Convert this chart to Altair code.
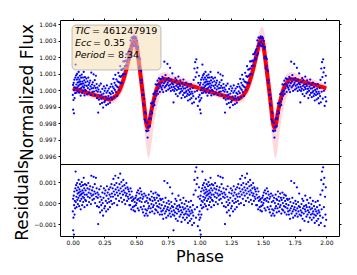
import altair as alt
import pandas as pd

# ---------------- folded light curve (one cycle, shown twice) ----------------
# phase in 1/1000, flux offset from 1 in 1e-5, residual in 1e-5
PHASE_MILLI = [
    1, 3, 4, 6, 8, 10, 11, 13, 15, 17, 19,
    21, 23, 25, 27, 29, 31, 33, 35, 37, 39, 41, 43, 45, 47, 49, 51, 53, 55, 57, 59,
    61, 63, 65, 67, 69, 71, 73, 75, 77, 79, 81, 83, 85, 87, 89, 91, 93, 95, 97, 99,
    102, 105, 108, 111, 114, 117, 120, 123, 126, 129, 132, 135, 138, 141, 144, 147,
    150, 153, 156, 159, 162, 165, 168, 171, 174, 177, 180, 183, 186, 189, 192, 195, 198,
    201, 204, 207, 210, 213, 216, 219, 222, 225, 228, 231, 234, 237, 240, 243, 246, 249,
    252, 255, 258, 261, 264, 267, 270, 273, 276, 279, 282, 285, 288, 291, 294, 297, 300,
    303, 306, 309, 312, 315, 318, 321, 324, 327, 330, 333, 336, 339, 342, 345, 348,
    351, 354, 357, 360, 363, 366, 369, 372, 375, 378, 381, 384, 387, 390, 393, 396,
    399, 402, 405, 408, 411, 414, 417, 420, 423, 426, 429, 432, 435, 438, 441, 444, 447,
    450, 453, 456, 459, 462, 465, 468, 471, 474, 477, 480, 483, 486, 489, 492, 495, 498,
    501, 504, 507, 510, 513, 516, 519, 522, 525, 528, 531, 534, 537, 540, 543, 546, 549,
    552, 555, 558, 561, 564, 567, 570, 573, 576, 579, 582, 585, 588, 591, 594, 597, 600,
    603, 606, 609, 612, 615, 618, 621, 624, 627, 630, 633, 636, 639, 642, 645, 648, 651,
    654, 657, 660, 663, 666, 669, 672, 675, 678, 681, 684, 687, 690, 693, 696, 699,
    702, 705, 708, 711, 714, 717, 720, 723, 726, 729, 732, 735, 738, 741, 744, 747, 750,
    753, 756, 759, 762, 765, 768, 771, 774, 777, 780, 783, 786, 789, 792, 795, 798,
    801, 804, 807, 810, 813, 816, 819, 822, 825, 828, 831, 834, 837, 840, 843, 846, 849,
    852, 855, 858, 861, 864, 867, 870, 873, 876, 879, 882, 885, 888, 891, 894, 897,
    900, 903, 906, 909, 912, 915, 918, 921, 924, 927, 930, 933, 936, 939, 942, 945, 948,
    951, 954, 957, 960, 963, 966, 969, 972, 975, 978, 981, 984, 987, 990, 993, 996, 999,
]
FLUX_E5 = [
    -28, 32, -118, -59, 45, -140, 0, 64, -47, 18, -18,
    77, 156, 11, 90, 35, -15, 65, 99, 18, 47, -3, 76, 26, 111, 50, -15, 64, 34, 88, 8,
    53, -33, 37, 76, 15, 95, 39, -16, 53, 23, 77, -3, 41, 111, 16, 60, -31, 29, 79, 3,
    48, -3, 71, 26, -25, 54, 13, 77, 32, -14, 45, 4, 59, 23, -28, 107,
    11, 35, -10, 48, 13, 97, -8, 27, 61, -30, 14, 88, -2, 38, -48, 16, -9,
    -135, 4, -57, 28, -33, -84, -10, 40, -52, -27, -77, 8, -44, -105, -20, 24, -72,
    -3, -64, 12, -39, -90, -15, 29, -52, -3, -84, -35, 10, -51, -16, -75, 21, -23,
    -43, 38, -6, -55, 22, -17, 69, 11, -42, 45, 2, 94, 31, -11, 66, 23,
    -34, 54, 18, 106, 49, 3, 86, 46, 146, 81, 42, 125, 87, 45, 128, 97,
    175, 133, 97, 175, 147, 98, 179, 150, 218, 175, 148, 221, 186, 231, 196, 242, 189,
    250, 211, 302, 267, 223, 319, 285, 319, 276, 317, 270, 327, 294, 316, 267, 324, 280,
    315, 265, 300, 250, 193, 262, 205, 134, 198, 147, 189, 124, 60, 115, 45, 61, -28,
    2, -82, -27, -92, -51, -176, -131, -185, -140, -244, -196, -249, -197, -287, -222, -244, -175,
    -216, -168, -219, -146, -172, -79, -126, -80, -139, -78, -98, -23, -68, -24, -90, -16, -52,
    36, -6, -32, 33, -2, 58, -22, 38, 12, 72, 36, -10, 68, 25, 68, 15,
    47, 4, 81, 28, -11, 71, 43, 173, 17, 52, 92, 26, -4, 66, 35, 160, 45,
    4, 73, 28, 57, 12, 136, 35, -5, 64, 19, 43, 102, 2, 36, -74, 20,
    -5, 49, 9, 73, -23, 27, 61, 1, 35, -36, 19, 83, 8, 37, -19, 26, 60,
    -10, 9, -47, 43, -3, 22, -29, 65, 10, -16, 34, -42, 12, -13, 46, -5,
    -35, 19, -22, -62, 2, 36, -29, -10, -56, 9, -22, 37, -48, -9, -80, -20, 14,
    -36, 63, -73, 132, -9, 170, 80, -51, 188, 108, -3, 136, -95, 45, -41, 88, -68,
]
RESID_E5 = [
    -40, 20, -130, -70, 35, -150, -10, 55, -55, 10, -25,
    70, 150, 5, 85, 30, -20, 60, 95, 15, 45, -5, 75, 25, 110, 50, -15, 65, 35, 90, 10,
    55, -30, 40, 80, 20, 100, 45, -10, 60, 30, 85, 5, 50, 120, 25, 70, -20, 40, 90, 15,
    60, 10, 85, 40, -10, 70, 30, 95, 50, 5, 65, 25, 80, 45, -5, 130,
    35, 60, 15, 75, 40, 125, 20, 55, 90, 0, 45, 120, 30, 70, -15, 50, 25,
    -100, 40, -20, 65, 5, -45, 30, 80, -10, 15, -35, 50, 0, -60, 25, 70, -25,
    45, -15, 60, 10, -40, 35, 80, 0, 50, -30, 20, 65, 5, 40, -20, 75, 30,
    10, 90, 45, -5, 70, 30, 115, 55, 0, 85, 40, 130, 65, 20, 95, 50,
    -10, 75, 35, 120, 60, 10, 90, 45, 140, 70, 25, 100, 55, 5, 80, 40,
    110, 60, 15, 85, 50, -5, 70, 35, 95, 45, 10, 75, 30, 65, 20, 55, -10,
    40, -10, 70, 25, -30, 55, 10, 30, -20, 15, -35, 20, -15, 5, -40, 25, -10,
    35, 0, 50, 15, -25, 60, 20, -35, 45, 10, 70, 25, -20, 55, 5, 40, -30,
    20, -45, 30, -15, 45, -60, 5, -30, 35, -50, 10, -35, 25, -60, 0, -25, 40,
    -15, 20, -45, 15, -25, 55, -5, 30, -40, 10, -20, 45, -10, 25, -50, 15, -30,
    50, 0, -35, 25, -15, 40, -45, 10, -20, 35, -5, -55, 20, -25, 15, -40,
    -10, -55, 20, -35, -75, 5, -25, 105, -50, -15, 25, -40, -70, 0, -30, 95, -20,
    -60, 10, -35, -5, -50, 75, -25, -65, 5, -40, -15, 45, -55, -20, -130, -35,
    -60, -5, -45, 20, -75, -25, 10, -50, -15, -85, -30, 35, -40, -10, -65, -20, 15,
    -55, -35, -90, 0, -45, -20, -70, 25, -30, -55, -5, -80, -25, -50, 10, -40,
    -70, -15, -55, -95, -30, 5, -60, -40, -85, -20, -50, 10, -75, -35, -105, -45, -10,
    -60, 40, -95, 110, -30, 150, 60, -70, 170, 90, -20, 120, -110, 30, -55, 75, -80,
]

# ---------------- best-fit model and spread of posterior models ----------------
MODEL_PHASE = [0.00, 0.05, 0.10, 0.15, 0.20, 0.25, 0.29, 0.31, 0.33, 0.35, 0.37, 0.39,
               0.41, 0.43, 0.45, 0.47, 0.48, 0.49, 0.50, 0.52, 0.54, 0.56, 0.58, 0.59,
               0.60, 0.62, 0.64, 0.66, 0.68, 0.70, 0.72, 0.75, 0.80, 0.85, 0.90, 0.95, 1.00]
MODEL_E5 = [12, 0, -12, -24, -35, -47, -56, -51, -40, -25, 0, 40,
            90, 150, 215, 280, 302, 312, 290, 180, 60, -70, -200, -228,
            -215, -125, -55, 3, 35, 56, 68, 65, 55, 45, 35, 24, 12]
BAND_LO_E5 = [-8, -21, -33, -46, -58, -71, -84, -80, -72, -60, -40, -10,
              30, 85, 145, 210, 235, 240, 215, 85, -60, -200, -340, -395,
              -410, -330, -210, -120, -60, -22, -5, 5, 5, 0, -5, -10, -8]
BAND_HI_E5 = [33, 21, 9, -2, -12, -24, -32, -20, -5, 15, 45, 95,
              150, 215, 285, 350, 372, 385, 380, 310, 200, 80, -70, -120,
              -140, -80, 0, 58, 92, 106, 110, 105, 90, 77, 65, 50, 33]

FLUX_TICKS = [0.996, 0.997, 0.998, 0.999, 1.000, 1.001, 1.002, 1.003, 1.004]
RESID_TICKS = [-0.001, 0.0, 0.001]
PHASE_TICKS = [0.0, 0.25, 0.5, 0.75, 1.0, 1.25, 1.5, 1.75, 2.0]

INFO_NAMES = ["TIC", "Ecc", "Period"]
INFO_VALUES = ["= 461247919", "= 0.35", "= 8.34"]

FONT = "DejaVu Sans"

rows = []
for cyc in (0, 1):
    for p, f, r in zip(PHASE_MILLI, FLUX_E5, RESID_E5):
        rows.append({"phase": p / 1000 + cyc, "flux": 1 + f * 1e-5, "resid": r * 1e-5})
pts = pd.DataFrame(rows)

mrows = []
for cyc in (0, 1):
    for p, m, lo, hi in zip(MODEL_PHASE, MODEL_E5, BAND_LO_E5, BAND_HI_E5):
        mrows.append({"phase": p + cyc, "model": 1 + m * 1e-5,
                      "lo": 1 + lo * 1e-5, "hi": 1 + hi * 1e-5, "cycle": cyc})
model = pd.DataFrame(mrows)

xscale = alt.Scale(domain=[-0.1, 2.1], nice=False, zero=False)
ytop = alt.Scale(domain=[0.99553, 1.00426], nice=False, zero=False)
ybot = alt.Scale(domain=[-0.00157, 0.00186], nice=False, zero=False)

top_axis = alt.Axis(values=FLUX_TICKS, format=".3f", title="Normalized Flux",
                    titlePadding=2, labelOverlap=False)
x_none = alt.X("phase:Q", scale=xscale, axis=None)

band = alt.Chart(model).mark_area(color="red", opacity=0.15, interpolate="monotone").encode(
    x=x_none,
    y=alt.Y("lo:Q", scale=ytop, axis=top_axis),
    y2="hi:Q",
    detail="cycle:N",
)
line = alt.Chart(model).mark_line(color="red", strokeWidth=4, interpolate="monotone").encode(
    x=x_none, y=alt.Y("model:Q", scale=ytop, axis=None), detail="cycle:N"
)
dots_top = alt.Chart(pts).mark_circle(color="blue", size=5, opacity=1).encode(
    x=x_none, y=alt.Y("flux:Q", scale=ytop, axis=None)
)
# invisible layer that only carries the tick marks on the top and right frame edges
frame_top = alt.Chart(pts).mark_circle(opacity=0).encode(
    x=alt.X("phase:Q", scale=xscale,
            axis=alt.Axis(orient="top", values=PHASE_TICKS, labels=False, title=None)),
    y=alt.Y("flux:Q", scale=ytop,
            axis=alt.Axis(orient="right", values=FLUX_TICKS, labels=False, title=None)),
)
box = alt.Chart(pd.DataFrame({"k": [0]})).mark_rect(
    fill="#f5deb3", fillOpacity=0.55, stroke="black", strokeOpacity=0.3,
    strokeWidth=0.8, cornerRadius=4
).encode(x=alt.value(12), x2=alt.value(101), y=alt.value(5), y2=alt.value(50))

texts = []
value_x = [32, 33, 47]
for i, (nm, val) in enumerate(zip(INFO_NAMES, INFO_VALUES)):
    texts.append(
        alt.Chart(pd.DataFrame({"t": [nm]})).mark_text(
            align="left", baseline="middle", fontStyle="italic", fontSize=9.5,
            font=FONT, color="black"
        ).encode(x=alt.value(15), y=alt.value(11 + 12 * i), text="t:N")
    )
    texts.append(
        alt.Chart(pd.DataFrame({"t": [val]})).mark_text(
            align="left", baseline="middle", fontSize=9.5, font=FONT, color="black"
        ).encode(x=alt.value(value_x[i]), y=alt.value(11 + 12 * i), text="t:N")
    )

top = alt.layer(band, line, dots_top, frame_top, box, *texts).resolve_axis(
    x="independent", y="independent"
).properties(width=279, height=144)

x_bot = alt.X("phase:Q", scale=xscale,
              axis=alt.Axis(values=PHASE_TICKS, format=".2f", title="Phase",
                            titlePadding=3, labelPadding=1, titleFontSize=16,
                            labelOverlap=False))
dots_bot = alt.Chart(pts).mark_circle(color="blue", size=5, opacity=1).encode(
    x=x_bot,
    y=alt.Y("resid:Q", scale=ybot,
            axis=alt.Axis(values=RESID_TICKS, format=".3f", title="Residuals",
                          titlePadding=2, labelOverlap=False)),
)
frame_bot = alt.Chart(pts).mark_circle(opacity=0).encode(
    x=x_bot,
    y=alt.Y("resid:Q", scale=ybot,
            axis=alt.Axis(orient="right", values=RESID_TICKS, labels=False, title=None)),
)
bottom = alt.layer(dots_bot, frame_bot).resolve_axis(y="independent").properties(
    width=279, height=72
)

chart = alt.vconcat(top, bottom, spacing=0, bounds="flush").properties(
    padding={"left": 5, "top": 9, "right": 5, "bottom": 5}
).configure_view(stroke="black", strokeWidth=1).configure_axis(
    labelFont=FONT, labelFontSize=6, labelColor="black", labelPadding=2,
    tickColor="black", tickSize=2, domain=False, grid=False,
    titleFont=FONT, titleFontSize=17, titleFontWeight="normal", titleColor="black",
)

chart.save("out.html", embed_options={"renderer": "svg", "actions": False})
